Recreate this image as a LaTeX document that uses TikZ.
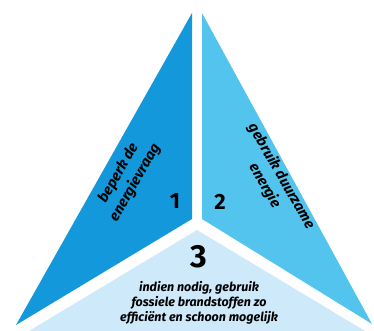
\documentclass[tikz,border=0pt]{standalone}
\usepackage{fontspec}
\setmainfont{Fira Sans}
\usepackage{tikz}

\tikzset{
  zijtekst/.style={font=\bfseries\itshape\fontsize{14.5}{19}\selectfont, align=center, inner sep=0pt},
  cijfer/.style={font=\bfseries\fontsize{22}{22}\selectfont, inner sep=0pt}
}

\begin{document}
\begin{tikzpicture}[x=1pt,y=1pt,yscale=-1,xscale=1]
%set diagram left start at 0, and has height of 331
\path [use as bounding box] (0,0) rectangle (374,331);

%Shape: Triangle [id:beperk]
\fill  [color={rgb, 255:red, 18; green, 152; blue, 219 }  ] (192,13) -- (192,219) -- (16,325) -- cycle ;
%Shape: Triangle [id:duurzaam]
\fill  [color={rgb, 255:red, 82; green, 196; blue, 238 }  ] (202,13) -- (202,219) -- (372,324) -- cycle ;
%Shape: Triangle [id:fossiel]
\fill  [color={rgb, 255:red, 206; green, 233; blue, 249 }  ] (197,230) -- (365,331) -- (29,331) -- cycle ;

% Text Node
\node [zijtekst, rotate=60] (vraag) at (127,178) {beperk de\\energievraag};
% Text Node
\node [zijtekst, rotate=-60] (duurzame) at (273,181) {gebruik duurzame\\energie};
% Text Node
\node [cijfer] (een) at (175,201) {1};
% Text Node
\node [cijfer] (twee) at (220,202) {2};
% Text Node
\node [cijfer, font=\bfseries\fontsize{32}{32}\selectfont] (drie) at (199,257) {3};
% Text Node
\node [zijtekst, font=\bfseries\itshape\fontsize{12.5}{15}\selectfont] (fossiele) at (199,303) {indien nodig, gebruik\\fossiele brandstoffen zo\\efficiënt en schoon mogelijk};

\end{tikzpicture}
\end{document}
